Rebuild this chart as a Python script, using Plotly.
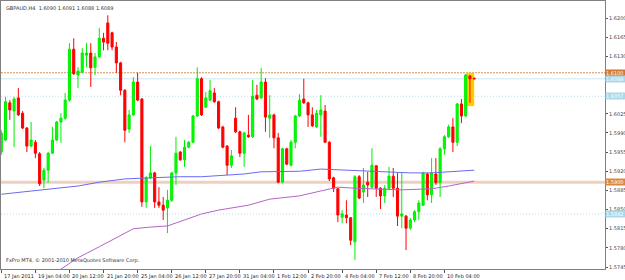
import plotly.graph_objects as go

# ---- data (GBPAUD, H4) ----
opens = [1.5955,1.5977,1.6045,1.6030,1.6054,1.6026,1.5999,1.5966,1.5973,1.5952,
         1.5904,1.5922,1.5953,1.5977,1.6010,1.6017,1.6050,1.6143,1.6096,1.6101,
         1.6132,1.6136,1.6110,1.6129,1.6163,1.6191,1.6173,1.6147,1.6118,1.6068,
         1.5997,1.6023,1.6083,1.6052,1.5864,1.5908,1.5917,1.5864,1.5858,1.5853,
         1.5867,1.5917,1.5955,1.5941,1.5964,1.5973,1.6021,1.6089,1.6037,1.6050,
         1.6063,1.6047,1.6001,1.5966,1.5931,1.6017,1.5992,1.5953,1.5986,1.5983,
         1.6059,1.6054,1.6083,1.6017,1.6023,1.5981,1.5900,1.5961,1.5931,1.5973,
         1.6021,1.6052,1.6045,1.6023,1.6001,1.6023,1.6030,1.5973,1.5908,1.5888,
         1.5836,1.5840,1.5835,1.5791,1.5910,1.5882,1.5900,1.5891,1.5930,1.5889,
         1.5875,1.5889,1.5911,1.5889,1.5838,1.5838,1.5816,1.5831,1.5846,1.5858,
         1.5915,1.5877,1.5915,1.5899,1.5961,1.5983,1.6001,1.5973,1.6043,1.6021,
         1.6094,1.6090]
highs = [1.5995,1.6056,1.6050,1.6056,1.6072,1.6030,1.6001,1.6010,1.5977,1.5955,
         1.5926,1.5955,1.6001,1.6012,1.6026,1.6063,1.6154,1.6163,1.6110,1.6145,
         1.6154,1.6154,1.6136,1.6182,1.6173,1.6205,1.6175,1.6156,1.6120,1.6070,
         1.6032,1.6092,1.6100,1.6054,1.5911,1.5966,1.5919,1.5891,1.5873,1.5886,
         1.5919,1.5983,1.5957,1.5977,1.5975,1.6023,1.6110,1.6092,1.6065,1.6087,
         1.6072,1.6049,1.6003,1.5968,1.5959,1.6037,1.5994,1.5992,1.6023,1.6087,
         1.6078,1.6109,1.6090,1.6059,1.6025,1.5990,1.5963,1.5963,1.5977,1.6023,
         1.6061,1.6089,1.6047,1.6037,1.6032,1.6059,1.6041,1.5975,1.5910,1.5889,
         1.5849,1.5867,1.5836,1.5913,1.5913,1.5926,1.5919,1.5962,1.5931,1.5891,
         1.5895,1.5928,1.5926,1.5917,1.5917,1.5840,1.5835,1.5849,1.5867,1.5919,
         1.5917,1.5944,1.5944,1.5964,1.5986,1.6005,1.6017,1.6045,1.6052,1.6098,
         1.6096,1.6091]
lows = [1.5950,1.5975,1.6014,1.5964,1.6021,1.5997,1.5955,1.5964,1.5944,1.5893,
        1.5889,1.5899,1.5952,1.5975,1.5972,1.6014,1.6047,1.6096,1.6072,1.6099,
        1.6110,1.6074,1.6096,1.6127,1.6141,1.6141,1.6141,1.6100,1.6059,1.5973,
        1.5990,1.6021,1.6048,1.5855,1.5853,1.5906,1.5853,1.5853,1.5831,1.5807,
        1.5864,1.5895,1.5939,1.5928,1.5962,1.5972,1.6019,1.6021,1.6036,1.6048,
        1.6045,1.5997,1.5962,1.5913,1.5926,1.5990,1.5946,1.5928,1.5981,1.5981,
        1.6050,1.6052,1.5992,1.5981,1.5962,1.5898,1.5898,1.5931,1.5929,1.5962,
        1.6019,1.6043,1.6001,1.6001,1.5999,1.5983,1.5972,1.5902,1.5882,1.5827,
        1.5825,1.5825,1.5785,1.5758,1.5869,1.5862,1.5873,1.5889,1.5873,1.5851,
        1.5862,1.5886,1.5873,1.5820,1.5816,1.5776,1.5813,1.5827,1.5831,1.5857,
        1.5867,1.5862,1.5895,1.5873,1.5950,1.5981,1.5955,1.5966,1.6008,1.6019,
        1.6045,1.6088]
closes = [1.5990,1.6047,1.6032,1.6052,1.6023,1.5999,1.5966,1.5977,1.5953,1.5897,
          1.5922,1.5953,1.5977,1.6010,1.6017,1.6050,1.6143,1.6098,1.6103,1.6136,
          1.6136,1.6109,1.6129,1.6163,1.6156,1.6154,1.6147,1.6118,1.6068,1.5995,
          1.6023,1.6083,1.6050,1.5864,1.5908,1.5917,1.5864,1.5858,1.5849,1.5867,
          1.5917,1.5953,1.5941,1.5964,1.5973,1.6021,1.6089,1.6023,1.6054,1.6067,
          1.6047,1.5999,1.5964,1.5931,1.5948,1.5992,1.5953,1.5990,1.5983,1.6057,
          1.6052,1.6083,1.6019,1.6023,1.5981,1.5900,1.5961,1.5933,1.5973,1.6021,
          1.6050,1.6045,1.6023,1.6003,1.6026,1.6032,1.5973,1.5906,1.5889,1.5840,
          1.5842,1.5835,1.5794,1.5910,1.5871,1.5895,1.5895,1.5931,1.5889,1.5875,
          1.5889,1.5911,1.5889,1.5838,1.5842,1.5816,1.5831,1.5846,1.5862,1.5917,
          1.5877,1.5917,1.5899,1.5961,1.5983,1.6001,1.5973,1.6043,1.6021,1.6096,
          1.6089,1.6089]
bars = list(range(len(opens)))

# moving averages (sampled readings at bar indices)
ma_blue_x = [0, 9, 18, 23, 29, 35, 42, 47, 54, 57, 61, 70, 75, 81, 85, 90, 96, 101, 105, 111]
ma_blue_y = [1.5878, 1.5886, 1.5893, 1.5900, 1.5906, 1.5908, 1.5910, 1.5910, 1.5913, 1.5915,
             1.5919, 1.5920, 1.5924, 1.5922, 1.5920, 1.5919, 1.5917, 1.5917, 1.5919, 1.5922]
ma_purple_x = [13, 18, 23, 28, 31, 35, 39, 43, 47, 51, 58, 63, 70, 75, 79, 83, 89, 94, 101, 105, 111]
ma_purple_y = [1.5736, 1.5762, 1.5782, 1.5802, 1.5815, 1.5818, 1.5820, 1.5831, 1.5842, 1.5849,
               1.5858, 1.5869, 1.5875, 1.5884, 1.5891, 1.5889, 1.5888, 1.5886, 1.5888, 1.5893, 1.5902]

# horizontal levels
level_orange = 1.6100
level_bid = 1.6089
level_blue_hi = 1.6057
level_tan = 1.5900
level_blue_lo = 1.5842

# highlight rectangle (bars / prices)
rect_bars = [109.2, 111.0]
rect_prices = [1.6039, 1.6100]

price_ticks = [1.5745, 1.5780, 1.5815, 1.5850, 1.5885, 1.5920, 1.5955, 1.5990,
               1.6025, 1.6130, 1.6165, 1.6200]
date_tick_bars = [0, 8, 16, 24, 32, 40, 48, 56, 64, 72, 80, 88, 96, 104]
date_labels = ["17 Jan 2011", "19 Jan 04:00", "20 Jan 12:00", "21 Jan 20:00",
               "25 Jan 04:00", "26 Jan 12:00", "27 Jan 20:00", "31 Jan 04:00",
               "1 Feb 12:00", "2 Feb 20:00", "4 Feb 04:00", "7 Feb 12:00",
               "8 Feb 20:00", "10 Feb 04:00"]

title_text = "GBPAUD,H4  1.6090 1.6091 1.6088 1.6089"
footer_text = "FxPro MT4, © 2001-2010 MetaQuotes Software Corp."

FONT = "DejaVu Sans"

fig = go.Figure()

fig.add_trace(go.Scatter(x=ma_blue_x, y=ma_blue_y, mode="lines",
                         line=dict(color="#6a6af0", width=1), hoverinfo="skip"))
fig.add_trace(go.Scatter(x=ma_purple_x, y=ma_purple_y, mode="lines",
                         line=dict(color="#b464c8", width=1), hoverinfo="skip"))

fig.add_trace(go.Candlestick(
    x=bars, open=opens, high=highs, low=lows, close=closes,
    increasing=dict(line=dict(color="#00ee00", width=1), fillcolor="#00ff00"),
    decreasing=dict(line=dict(color="#ff0000", width=1), fillcolor="#ff0000"),
    whiskerwidth=0,
))

shapes = [
    dict(type="rect", xref="x", yref="y", x0=rect_bars[0], x1=rect_bars[1],
         y0=rect_prices[0], y1=rect_prices[1], fillcolor="#ffcc00",
         line=dict(width=0), layer="below"),
    dict(type="line", xref="paper", yref="y", x0=0, x1=1, y0=level_tan, y1=level_tan,
         line=dict(color="#f0cfbe", width=3), layer="below"),
    dict(type="line", xref="paper", yref="y", x0=0, x1=1, y0=level_orange, y1=level_orange,
         line=dict(color="#d4935a", width=1, dash="2px,1px"), layer="below"),
    dict(type="line", xref="paper", yref="y", x0=0, x1=1, y0=level_bid, y1=level_bid,
         line=dict(color="#cfe8f0", width=1), layer="below"),
    dict(type="line", xref="paper", yref="y", x0=0, x1=1, y0=level_blue_hi, y1=level_blue_hi,
         line=dict(color="#b4e0ec", width=1, dash="1px,2px"), layer="below"),
    dict(type="line", xref="paper", yref="y", x0=0, x1=1, y0=level_blue_lo, y1=level_blue_lo,
         line=dict(color="#b4e0ec", width=1, dash="1px,2px"), layer="below"),
]

annotations = [
    dict(text=title_text, xref="paper", yref="paper", x=0, y=1, xanchor="left",
         yanchor="top", xshift=3, yshift=-2, showarrow=False,
         font=dict(family=FONT, size=5, color="#333333")),
    dict(text=footer_text, xref="paper", yref="paper", x=0, y=0, xanchor="left",
         yanchor="bottom", xshift=3, yshift=3, showarrow=False,
         font=dict(family=FONT, size=5, color="#333333")),
]
for b, lab in zip(date_tick_bars, date_labels):
    annotations.append(dict(text=lab, xref="x", yref="paper", x=b, y=0,
                            xanchor="left", yanchor="top", xshift=1, yshift=-2,
                            showarrow=False,
                            font=dict(family=FONT, size=5, color="#222222")))

for lvl, bg in [(level_orange, "#cf7a30"), (level_bid, "#a9d9e8"),
                (level_blue_hi, "#a9d9e8"), (level_tan, "#d98840"),
                (level_blue_lo, "#a9d9e8")]:
    annotations.append(dict(text=f"{lvl:.4f}", xref="paper", yref="y", x=1, y=lvl,
                            xanchor="left", yanchor="middle", xshift=0,
                            showarrow=False, bgcolor=bg, borderpad=0,
                            width=19, align="left",
                            font=dict(family=FONT, size=5, color="#ffffff")))

fig.update_layout(
    width=625, height=280,
    margin=dict(l=1, r=20, t=1, b=11),
    paper_bgcolor="white", plot_bgcolor="white",
    showlegend=False,
    shapes=shapes, annotations=annotations,
    boxgap=0.3,
    xaxis=dict(range=[-0.07, 141.7], showgrid=False, zeroline=False,
               rangeslider=dict(visible=False),
               tickmode="array", tickvals=date_tick_bars, showticklabels=False,
               ticks="outside", ticklen=3, tickcolor="#555555",
               showline=True, mirror=True, linecolor="#808080", linewidth=1,
               fixedrange=True),
    yaxis=dict(range=[1.57414, 1.62311], side="right", showgrid=False,
               zeroline=False, tickmode="array", tickvals=price_ticks,
               tickformat=".4f", ticks="outside", ticklen=2, tickcolor="#555555",
               tickfont=dict(family=FONT, size=5, color="#444444"),
               showline=True, mirror=True, linecolor="#808080", linewidth=1,
               automargin=False, fixedrange=True),
)

fig.write_html("out.html")
